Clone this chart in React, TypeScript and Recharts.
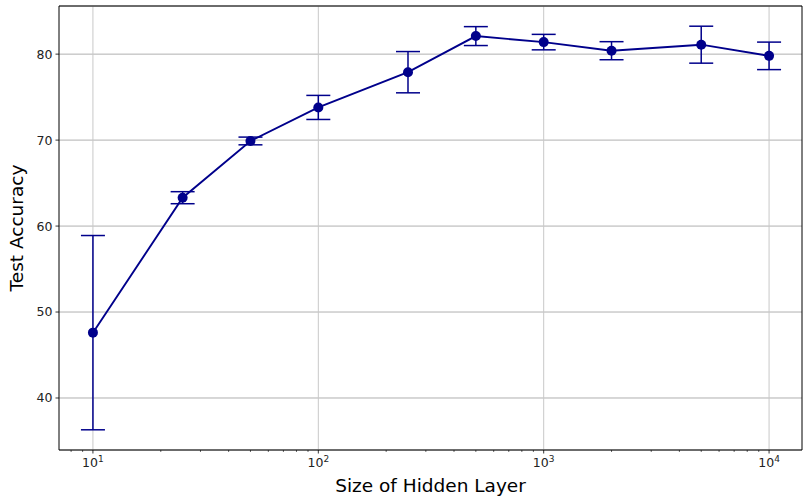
import { CartesianGrid, ErrorBar, Line, LineChart, ReferenceLine, XAxis, YAxis } from "recharts";

const sizes = [10, 25, 50, 100, 250, 500, 1000, 2000, 5000, 10000];
const accuracy = [47.6, 63.3, 69.9, 73.8, 77.9, 82.1, 81.4, 80.4, 81.1, 79.8];
const errors = [11.3, 0.7, 0.45, 1.4, 2.4, 1.1, 0.9, 1.05, 2.15, 1.6];

const majorTicks = [10, 100, 1000, 10000];
const minorTicks = [8, 9, 20, 30, 40, 50, 60, 70, 80, 90, 200, 300, 400, 500, 600, 700, 800, 900, 2000, 3000, 4000, 5000, 6000, 7000, 8000, 9000];
const yTicks = [40, 50, 60, 70, 80];

const data = sizes.map((s, i) => ({ size: s, acc: accuracy[i], err: errors[i] }));
const xTicks = [...majorTicks, ...minorTicks].sort((a, b) => a - b);

const X_MIN = 7.07;
const X_MAX = 14000;
const Y_MIN = 33.95;
const Y_MAX = 85.6;
const navy = "#00008b";
const font = "DejaVu Sans";

function LogTick(props: any) {
  const { x, y, payload } = props;
  const v = payload.value as number;
  const exp = Math.log10(v);
  const major = Math.abs(exp - Math.round(exp)) < 1e-9;
  return (
    <g>
      <line x1={x} y1={y} x2={x} y2={y + (major ? 3.5 : 2)} stroke="#000" strokeWidth={major ? 0.8 : 0.6} />
      {major && (
        <text x={x} y={y + 17} textAnchor="middle" fontSize={12.5} fontFamily={font} fill="#222">
          <tspan>10</tspan>
          <tspan dy={-5} fontSize={9}>{Math.round(exp)}</tspan>
        </text>
      )}
    </g>
  );
}

export default function App() {
  return (
    <div style={{ position: "absolute", left: 0, top: 0, background: "#fff" }}>
      <LineChart width={804} height={496} data={data} margin={{ top: 6, right: 2, bottom: 0, left: 0 }}>
        <CartesianGrid vertical={false} stroke="#b0b0b0" strokeWidth={1} />
        {majorTicks.map((t) => (
          <ReferenceLine key={t} x={t} stroke="#c8c8c8" strokeWidth={1} />
        ))}
        <XAxis
          dataKey="size"
          type="number"
          scale="log"
          domain={[X_MIN, X_MAX]}
          allowDataOverflow
          ticks={xTicks}
          interval={0}
          tickSize={0}
          tickMargin={0}
          tickLine={false}
          tick={<LogTick />}
          height={46}
          axisLine={{ stroke: "#000", strokeWidth: 1 }}
          label={{ value: "Size of Hidden Layer", position: "insideBottom", offset: 4, fontSize: 18.5, fontFamily: font, fill: "#000" }}
        />
        <YAxis
          type="number"
          domain={[Y_MIN, Y_MAX]}
          allowDataOverflow
          ticks={yTicks}
          width={59}
          tickSize={3.5}
          tickMargin={3}
          tick={{ fontSize: 12.5, fontFamily: font, fill: "#222" }}
          tickLine={{ stroke: "#000", strokeWidth: 0.8 }}
          axisLine={{ stroke: "#000", strokeWidth: 1 }}
          label={{ value: "Test Accuracy", angle: -90, position: "insideLeft", offset: 16, fontSize: 18.5, fontFamily: font, fill: "#000", style: { textAnchor: "middle" } }}
        />
        <ReferenceLine y={Y_MAX} stroke="#000" strokeWidth={1} />
        <ReferenceLine x={X_MAX} stroke="#000" strokeWidth={1} />
        <Line
          dataKey="acc"
          type="linear"
          stroke={navy}
          strokeWidth={1.9}
          dot={{ r: 5, fill: navy, stroke: navy, strokeWidth: 0 }}
          activeDot={false}
          isAnimationActive={false}
        >
          <ErrorBar dataKey="err" direction="y" width={12} stroke={navy} strokeWidth={1.5} isAnimationActive={false} />
        </Line>
      </LineChart>
    </div>
  );
}
